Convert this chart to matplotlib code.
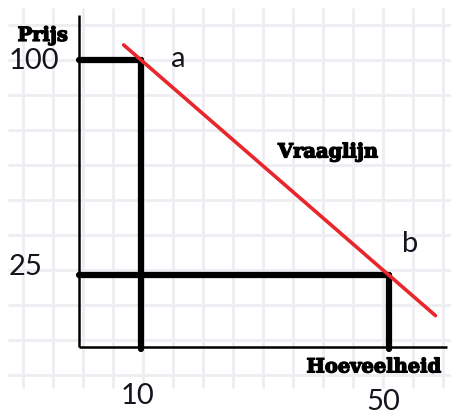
import matplotlib
matplotlib.use("Agg")
import matplotlib.pyplot as plt
import matplotlib.patheffects as pe

# Data
quantities = [10, 50]          # Hoeveelheid at points a and b
prices = [100, 25]             # Prijs at points a and b
point_labels = ["a", "b"]
demand_q = [7.2, 57.5]         # extent of the demand line (Vraaglijn)
x_tick_labels = ["10", "50"]
y_tick_labels = ["100", "25"]

W, H = 451, 419
fig = plt.figure(figsize=(W / 100, H / 100), dpi=100)

# background paper grid (pixel coordinates)
bg = fig.add_axes([0, 0, 1, 1])
bg.set_xlim(0, W)
bg.set_ylim(H, 0)
bg.axis("off")
grid_c = "#ededf2"
for k in range(15):
    x = 23 + 30 * k
    bg.plot([x, x], [8, 388], color=grid_c, lw=2.0, solid_capstyle="butt", zorder=0)
for k in range(11):
    y = 25 + 35 * k
    bg.plot([8, W], [y, y], color=grid_c, lw=2.0, solid_capstyle="butt", zorder=0)

# data axes mapped over whole figure
ax = fig.add_axes([0, 0, 1, 1])
ax.patch.set_alpha(0)
x0, sx = 79, 6.2
y0, sy = 347, 2.87
ax.set_xlim((0 - x0) / sx, (W - x0) / sx)
ax.set_ylim((y0 - H) / sy, y0 / sy)
ax.axis("off")

# demand function through the two points
slope = (prices[1] - prices[0]) / (quantities[1] - quantities[0])
def demand(q):
    return prices[0] + slope * (q - quantities[0])

# axes lines
ax.plot([0, 0], [0, (y0 - 15) / sy], color="black", lw=1.8, solid_capstyle="butt")
ax.plot([0, (447 - x0) / sx], [0, 0], color="black", lw=1.8, solid_capstyle="butt")

# thick guide lines
for q, p in zip(quantities, prices):
    ax.plot([0, q], [p, p], color="black", lw=4.5, solid_capstyle="round", zorder=3)
    ax.plot([q, q], [p, -0.8], color="black", lw=4.5, solid_capstyle="round", zorder=3)

# demand line
ax.plot(demand_q, [demand(q) for q in demand_q], color="#e8262b", lw=2.6,
        solid_capstyle="round", zorder=4)

txt_c = "#14141e"
tick_font = "Lato"
ax.text(quantities[0] - 0.5, -17.0, x_tick_labels[0], ha="center", va="center",
        fontsize=21, family=tick_font, color=txt_c)
ax.text(quantities[1] - 0.9, -19.3, x_tick_labels[1], ha="center", va="center",
        fontsize=21, family=tick_font, color=txt_c)
ax.text(-11.3, prices[0] - 0.5, y_tick_labels[0], ha="left", va="center",
        fontsize=21, family=tick_font, color=txt_c)
ax.text(-11.3, prices[1] + 3.0, y_tick_labels[1], ha="left", va="center",
        fontsize=21, family=tick_font, color=txt_c)

# point labels
ax.text(quantities[0] + 6.0, prices[0] + 0.5, point_labels[0], ha="center", va="center",
        fontsize=21, family=tick_font, color=txt_c)
ax.text(quantities[1] + 3.4, prices[1] + 11.0, point_labels[1], ha="center", va="center",
        fontsize=21, family=tick_font, color=txt_c)

# titles
slab = "DejaVu Serif"
heavy = [pe.withStroke(linewidth=1.0, foreground="black")]
ax.text(-9.9, 108.4, "Prijs", ha="left", va="center", fontsize=14,
        family=slab, weight="bold", color="black", path_effects=heavy)
ax.text(40.2, 67.8, "Vraaglijn", ha="center", va="center", fontsize=14,
        family=slab, weight="bold", color="black", path_effects=heavy)
ax.text(47.5, -7.1, "Hoeveelheid", ha="center", va="center", fontsize=14,
        family=slab, weight="bold", color="black", path_effects=heavy)

fig.savefig("out.png", dpi=100)
